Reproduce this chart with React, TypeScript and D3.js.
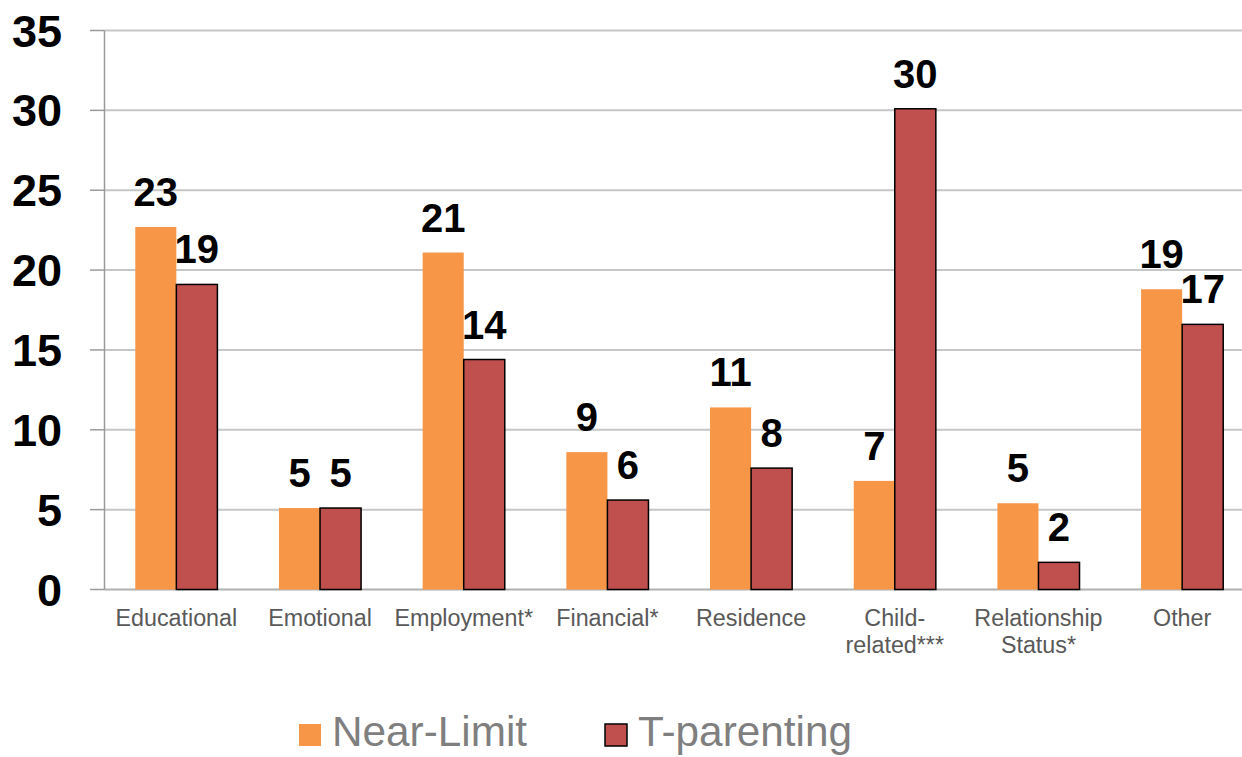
import React from "react";
import * as d3 from "d3";

// Reasons reported, by group (percent)
const categories = [
  "Educational",
  "Emotional",
  "Employment*",
  "Financial*",
  "Residence",
  "Child-\nrelated***",
  "Relationship\nStatus*",
  "Other",
];
const nearLimit = [22.7, 5.1, 21.1, 8.6, 11.4, 6.8, 5.4, 18.8];
const tParenting = [19.1, 5.1, 14.4, 5.6, 7.6, 30.1, 1.7, 16.6];
const seriesNames = ["Near-Limit", "T-parenting"];
const yTicks = [0, 5, 10, 15, 20, 25, 30, 35];

const W = 1242;
const H = 757;
const FONT = "'Liberation Sans', Arial, Helvetica, sans-serif";
const colors = ["#F79646", "#C0504D"];

export default function App() {
  const left = 104.5;
  const right = 1254;
  const top = 30.5;
  const bottom = 589.5;

  const x = d3.scaleBand<string>().domain(categories).range([left, right]).paddingInner(0).paddingOuter(0);
  const xInner = d3
    .scaleBand<string>()
    .domain(seriesNames)
    .range([0, x.bandwidth()])
    .paddingInner(0)
    .paddingOuter(0.75);
  const y = d3.scaleLinear().domain([0, 35]).range([bottom, top]);
  const fmt = d3.format(".0f");

  const series = [nearLimit, tParenting];

  return (
    <svg
      width={W}
      height={H}
      style={{ position: "absolute", left: 0, top: 0, background: "#fff" }}
      fontFamily={FONT}
    >
      {/* gridlines */}
      {yTicks.map((t) => (
        <line
          key={"g" + t}
          x1={left}
          x2={W}
          y1={y(t)}
          y2={y(t)}
          stroke={t === 0 ? "#b0b0b0" : "#c6c6c6"}
          strokeWidth={2}
        />
      ))}
      {/* tick marks and y labels */}
      {yTicks.map((t) => (
        <g key={"t" + t}>
          <line x1={90} x2={left} y1={y(t)} y2={y(t)} stroke="#9a9a9a" strokeWidth={1.5} />
          <text
            x={62}
            y={y(t) + 16}
            textAnchor="end"
            fontSize={45}
            fontWeight="bold"
            fill="#000"
          >
            {t}
          </text>
        </g>
      ))}
      {/* y axis line */}
      <line x1={left} x2={left} y1={top} y2={bottom} stroke="#9a9a9a" strokeWidth={1.5} />

      {/* bars */}
      {series.map((vals, si) =>
        vals.map((v, i) => {
          const bx = (x(categories[i]) as number) + (xInner(seriesNames[si]) as number);
          const bw = xInner.bandwidth();
          return (
            <rect
              key={`b${si}-${i}`}
              x={bx}
              y={y(v)}
              width={bw}
              height={y(0) - y(v)}
              fill={colors[si]}
              stroke={si === 1 ? "#000" : "none"}
              strokeWidth={si === 1 ? 1.5 : 0}
            />
          );
        })
      )}

      {/* value labels */}
      {series.map((vals, si) =>
        vals.map((v, i) => {
          const cx =
            (x(categories[i]) as number) + (xInner(seriesNames[si]) as number) + xInner.bandwidth() / 2;
          return (
            <text
              key={`l${si}-${i}`}
              x={cx}
              y={y(v) - 21}
              textAnchor="middle"
              fontSize={40}
              fontWeight="bold"
              fill="#000"
            >
              {fmt(v)}
            </text>
          );
        })
      )}

      {/* category labels */}
      {categories.map((c) => {
        const cx = (x(c) as number) + x.bandwidth() / 2;
        return (
          <text key={"c" + c} x={cx} y={626} textAnchor="middle" fontSize={23.3} fill="#595959">
            {c.split("\n").map((line, li) => (
              <tspan key={li} x={cx} dy={li === 0 ? 0 : 27}>
                {line}
              </tspan>
            ))}
          </text>
        );
      })}

      {/* legend */}
      {seriesNames.map((name, si) => {
        const lx = si === 0 ? 299 : 605;
        return (
          <g key={"lg" + name}>
            <rect
              x={lx}
              y={724}
              width={22}
              height={22}
              fill={colors[si]}
              stroke={si === 1 ? "#000" : "none"}
              strokeWidth={si === 1 ? 1.5 : 0}
            />
            <text x={lx + 33} y={746} fontSize={42.3} fill="#7f7f7f">
              {name}
            </text>
          </g>
        );
      })}
    </svg>
  );
}
